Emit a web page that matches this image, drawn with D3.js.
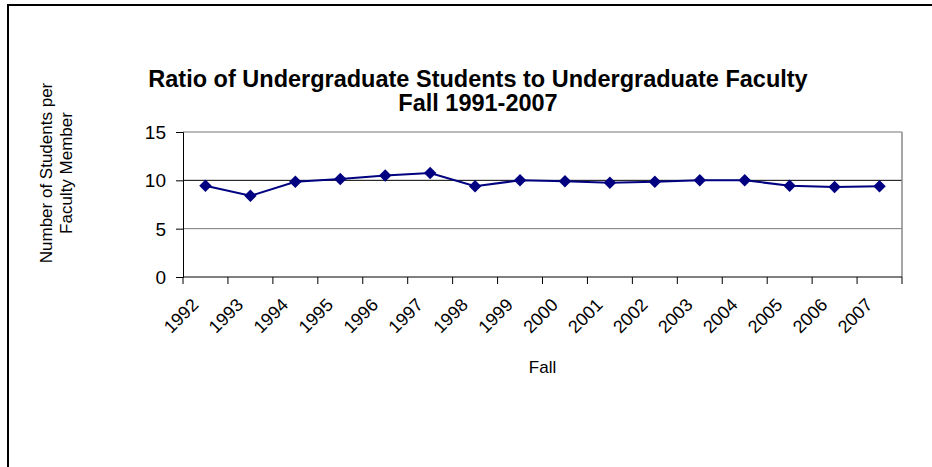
<!DOCTYPE html>
<html><head><meta charset="utf-8">
<script src="https://cdn.jsdelivr.net/npm/d3@7"></script>
<style>body{margin:0;background:#fff}svg{display:block}text{font-family:Arial,"Liberation Sans",sans-serif;fill:#000}</style>
</head><body>
<script>
const years = ["1992","1993","1994","1995","1996","1997","1998","1999","2000","2001","2002","2003","2004","2005","2006","2007"];
const ratios = [9.45,8.4,9.85,10.15,10.5,10.75,9.4,10.0,9.9,9.75,9.85,10.0,10.0,9.45,9.3,9.4];
const yTicks = [0,5,10,15];
const titleLines = ["Ratio of Undergraduate Students to Undergraduate Faculty","Fall 1991-2007"];
const yLabelLines = ["Number of Students per","Faculty Member"];
const xLabel = "Fall";

const W=932,H=467;
const svg=d3.select("body").append("svg").attr("width",W).attr("height",H);
svg.append("path").attr("d","M8,467V5H932").attr("fill","none").attr("stroke","#000").attr("stroke-width",2);

const L=183,R=902,T=132,B=277;
const x=d3.scaleBand().domain(years).range([L,R]).padding(0);
const y=d3.scaleLinear().domain([0,15]).range([B,T]);

const g=svg.append("g");
g.selectAll("line.grid").data(yTicks.filter(d=>d>0)).join("line")
 .attr("x1",L).attr("x2",R).attr("y1",d=>y(d)).attr("y2",d=>y(d))
 .attr("stroke",d=>d===10?"#000":"#777").attr("stroke-width",1);
g.append("line").attr("x1",R).attr("x2",R).attr("y1",T).attr("y2",B).attr("stroke","#888").attr("stroke-width",1.5);

const ya=g.append("g").attr("transform",`translate(${L},0)`).call(d3.axisLeft(y).tickValues(yTicks).tickSize(7).tickPadding(10));
ya.select(".domain").attr("stroke","#000");
ya.selectAll("text").style("font-size","19px").attr("dy","0.35em");
const xa=g.append("g").attr("transform",`translate(0,${B})`);
xa.append("line").attr("x1",L).attr("x2",R).attr("stroke","#000");
const bounds=years.map(d=>x(d)).concat([R]);
xa.selectAll("line.t").data(bounds).join("line").attr("x1",d=>d).attr("x2",d=>d).attr("y1",0).attr("y2",7).attr("stroke","#000");
xa.selectAll("text").data(years).join("text")
 .attr("transform",d=>`translate(${x(d)+x.bandwidth()/2-6},${29}) rotate(-45)`)
 .attr("text-anchor","end").style("font-size","18px").text(d=>d);

const line=d3.line().x((d,i)=>x(years[i])+x.bandwidth()/2).y(d=>y(d));
g.append("path").datum(ratios).attr("d",line).attr("fill","none").attr("stroke","#000080").attr("stroke-width",2);
g.selectAll("path.m").data(ratios).join("path")
 .attr("d",d3.symbol(d3.symbolSquare,78)())
 .attr("transform",(d,i)=>`translate(${x(years[i])+x.bandwidth()/2},${y(d)}) rotate(45)`)
 .attr("fill","#000080");

svg.selectAll("text.title").data(titleLines).join("text")
 .attr("x",478).attr("y",(d,i)=>87+i*24).attr("text-anchor","middle")
 .style("font-size","23.5px").style("font-weight","bold").text(d=>d);
svg.selectAll("text.yl").data(yLabelLines).join("text")
 .attr("transform",(d,i)=>`translate(${52+i*20},173) rotate(-90)`)
 .attr("text-anchor","middle").style("font-size","17px").text(d=>d);
svg.append("text").attr("x",(L+R)/2).attr("y",373).attr("text-anchor","middle").style("font-size","17px").text(xLabel);
</script>
</body></html>
